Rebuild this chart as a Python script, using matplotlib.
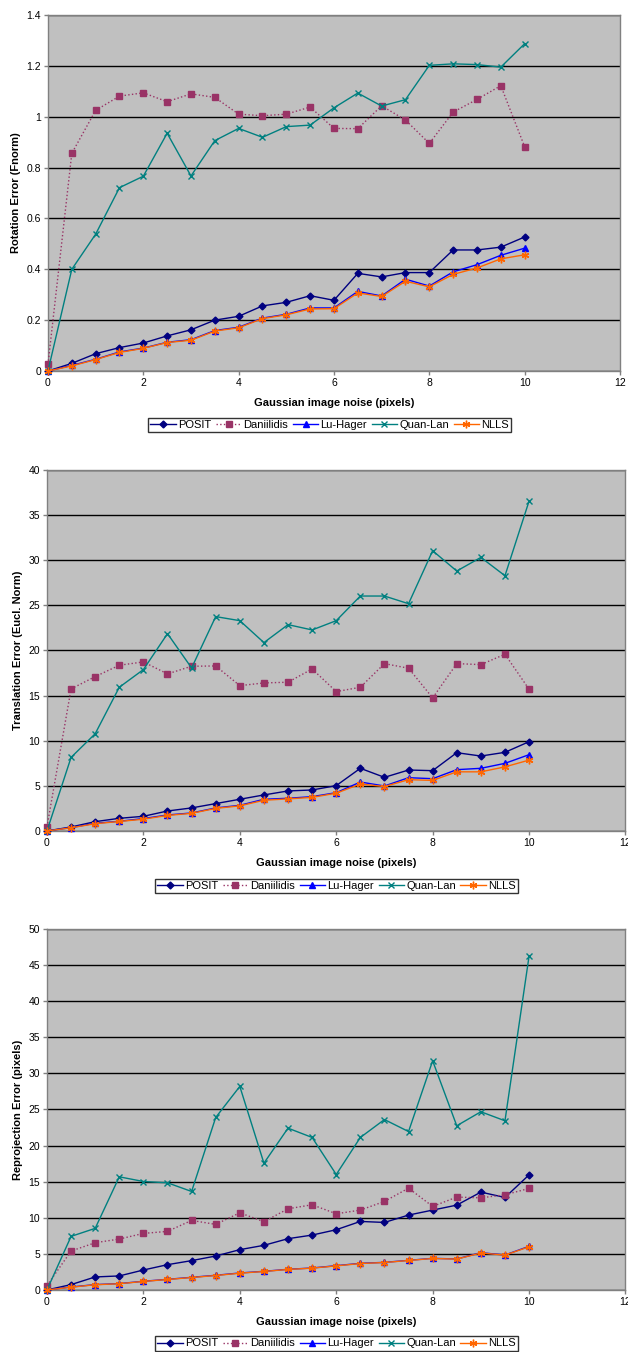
import matplotlib
matplotlib.use("Agg")
import matplotlib.pyplot as plt
from matplotlib.ticker import FormatStrFormatter, MultipleLocator

plt.rcParams['font.family'] = ['Liberation Sans', 'DejaVu Sans']

noise = [0, 0.5, 1, 1.5, 2, 2.5, 3, 3.5, 4, 4.5, 5, 5.5, 6, 6.5, 7, 7.5, 8, 8.5, 9, 9.5, 10]
methods = ["POSIT", "Daniilidis", "Lu-Hager", "Quan-Lan", "NLLS"]

# rotation error (Fnorm)
rot_posit = [0, 0.03, 0.068, 0.092, 0.110, 0.138, 0.162, 0.200, 0.215, 0.256, 0.270, 0.296,
             0.278, 0.384, 0.370, 0.387, 0.387, 0.476, 0.476, 0.487, 0.527]
rot_dani = [0.026, 0.856, 1.025, 1.081, 1.094, 1.059, 1.090, 1.076, 1.010, 1.004, 1.010, 1.038,
            0.954, 0.953, 1.043, 0.987, 0.895, 1.018, 1.068, 1.122, 0.882]
rot_lu = [0, 0.022, 0.046, 0.075, 0.090, 0.113, 0.123, 0.159, 0.172, 0.208, 0.223, 0.248,
          0.248, 0.313, 0.295, 0.361, 0.334, 0.390, 0.418, 0.455, 0.483]
rot_quan = [0, 0.400, 0.538, 0.721, 0.766, 0.935, 0.767, 0.906, 0.954, 0.919, 0.961, 0.967,
            1.035, 1.093, 1.042, 1.067, 1.202, 1.208, 1.205, 1.195, 1.287]
rot_nlls = [0, 0.020, 0.045, 0.073, 0.089, 0.112, 0.121, 0.157, 0.170, 0.206, 0.221, 0.244,
            0.245, 0.307, 0.293, 0.353, 0.331, 0.380, 0.405, 0.441, 0.457]

# translation error (Eucl. norm)
tr_posit = [0, 0.44, 1.03, 1.40, 1.62, 2.21, 2.55, 3.03, 3.51, 3.99, 4.43, 4.54,
            5.02, 6.94, 5.94, 6.75, 6.68, 8.67, 8.30, 8.71, 9.89]
tr_dani = [0.45, 15.74, 17.10, 18.36, 18.73, 17.40, 18.25, 18.28, 16.10, 16.40, 16.48, 17.95,
           15.44, 15.92, 18.54, 18.03, 14.74, 18.54, 18.43, 19.58, 15.70]
tr_lu = [0, 0.37, 0.85, 1.07, 1.37, 1.77, 1.99, 2.55, 2.84, 3.51, 3.62, 3.80,
         4.24, 5.42, 4.98, 5.90, 5.79, 6.79, 6.94, 7.49, 8.45]
tr_quan = [0, 8.15, 10.77, 15.92, 17.88, 21.86, 18.06, 23.75, 23.30, 20.87, 22.86, 22.27,
           23.30, 26.03, 26.03, 25.18, 31.05, 28.80, 30.31, 28.28, 36.55]
tr_nlls = [0, 0.35, 0.80, 1.05, 1.30, 1.72, 1.95, 2.50, 2.78, 3.40, 3.55, 3.72,
           4.18, 5.20, 4.92, 5.68, 5.60, 6.55, 6.55, 7.10, 7.85]

# reprojection error (pixels)
rp_posit = [0, 0.74, 1.80, 1.94, 2.76, 3.50, 4.06, 4.70, 5.58, 6.18, 7.10, 7.60,
            8.34, 9.49, 9.35, 10.37, 11.06, 11.75, 13.55, 12.81, 15.94]
rp_dani = [0.60, 5.39, 6.54, 7.05, 7.83, 8.11, 9.63, 9.08, 10.69, 9.45, 11.24, 11.80,
           10.55, 11.06, 12.26, 14.10, 11.57, 12.86, 12.76, 13.18, 14.06]
rp_lu = [0, 0.41, 0.74, 0.88, 1.20, 1.47, 1.75, 2.03, 2.35, 2.58, 2.86, 3.04,
         3.36, 3.69, 3.82, 4.10, 4.38, 4.29, 5.16, 4.84, 6.04]
rp_quan = [0, 7.42, 8.53, 15.67, 15.02, 14.84, 13.64, 23.89, 28.19, 17.56, 22.41, 21.12,
           15.99, 21.12, 23.60, 21.94, 31.74, 22.74, 24.68, 23.43, 46.24]
rp_nlls = [0, 0.38, 0.72, 0.86, 1.18, 1.45, 1.72, 2.00, 2.32, 2.56, 2.84, 3.02,
           3.33, 3.66, 3.80, 4.08, 4.36, 4.27, 5.12, 4.82, 5.98]

styles = {
    "POSIT": dict(color="#000080", marker="D", ms=3.5, ls="-"),
    "Daniilidis": dict(color="#993366", marker="s", ms=5, ls=":"),
    "Lu-Hager": dict(color="#0000FF", marker="^", ms=4.5, ls="-"),
    "Quan-Lan": dict(color="#008080", marker="x", ms=4.5, ls="-"),
    "NLLS": dict(color="#FF6600", marker=(6, 2, 0), ms=5.5, ls="-"),
}

panels = [
    ([0.0764, 0.7256, 0.9108, 0.2633], [rot_posit, rot_dani, rot_lu, rot_quan, rot_nlls],
     "Rotation Error (Fnorm)", 1.4, 0.2, (0.525, 0.6805)),
    ([0.0748, 0.3854, 0.9212, 0.2670], [tr_posit, tr_dani, tr_lu, tr_quan, tr_nlls],
     "Translation Error (Eucl. Norm)", 40, 5, (0.536, 0.3395)),
    ([0.0748, 0.0459, 0.9212, 0.2670], [rp_posit, rp_dani, rp_lu, rp_quan, rp_nlls],
     "Reprojection Error (pixels)", 50, 5, (0.536, 0.001)),
]

fig = plt.figure(figsize=(6.28, 13.52), dpi=100)

for rect, series, ylabel, ymax, ystep, leg_pos in panels:
    ax = fig.add_axes(rect)
    ax.set_facecolor("#C0C0C0")
    for name, vals in zip(methods, series):
        st = styles[name]
        ax.plot(noise, vals, color=st["color"], ls=st["ls"], lw=1,
                marker=st["marker"], ms=st["ms"], mec=st["color"], mfc=st["color"],
                mew=1, label=name, clip_on=False, zorder=3)
    ax.set_xlim(0, 12)
    ax.set_ylim(0, ymax)
    ax.xaxis.set_major_locator(MultipleLocator(2))
    ax.yaxis.set_major_locator(MultipleLocator(ystep))
    ax.yaxis.set_major_formatter(FormatStrFormatter("%g"))
    ax.grid(axis="y", color="black", lw=1, zorder=1)
    ax.set_axisbelow(True)
    for s in ax.spines.values():
        s.set_color("#808080")
        s.set_linewidth(1)
    ax.tick_params(labelsize=7.5, length=3, width=1, color="#808080", pad=2)
    ax.set_ylabel(ylabel, fontsize=8, fontweight="bold", labelpad=4)
    ax.set_xlabel("Gaussian image noise (pixels)", fontsize=8, fontweight="bold", labelpad=7)
    leg = fig.legend(loc="lower center", bbox_to_anchor=leg_pos, ncol=5,
                     handles=ax.get_lines(), fontsize=8, frameon=True, fancybox=False,
                     handlelength=2.3, handletextpad=0.2, columnspacing=0.4,
                     borderpad=0.2, borderaxespad=0)
    leg.get_frame().set_edgecolor("black")
    leg.get_frame().set_linewidth(1)

fig.savefig("out.png", dpi=100, facecolor="white")
